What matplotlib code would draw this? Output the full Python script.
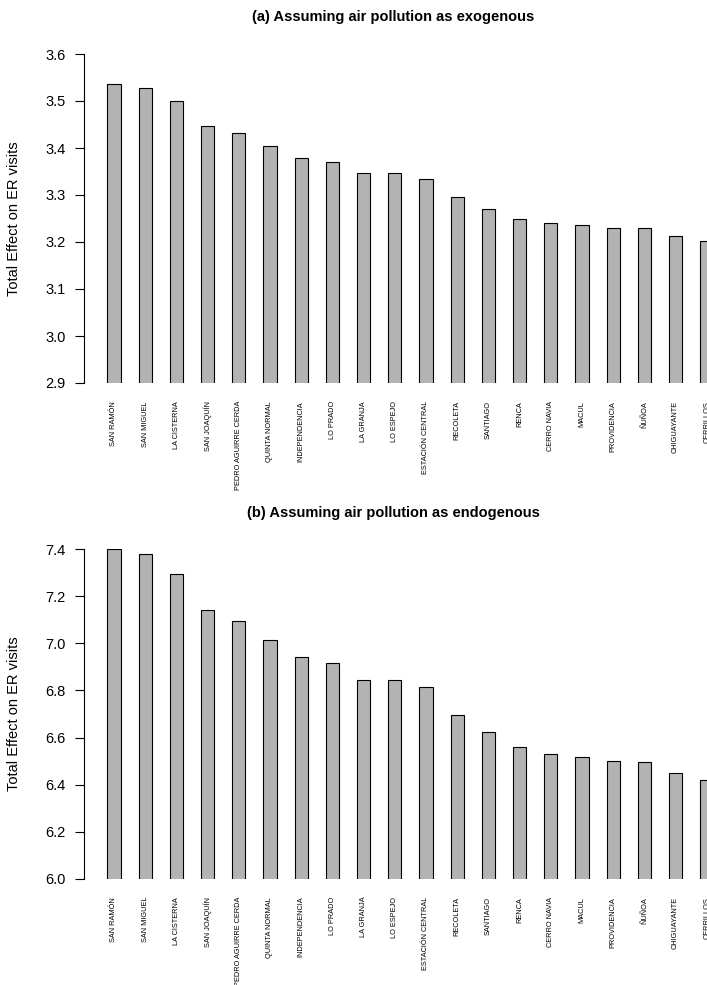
import numpy as np
import matplotlib
matplotlib.use("Agg")
import matplotlib.pyplot as plt

plt.rcParams['font.family'] = ['Liberation Sans', 'DejaVu Sans']

# Communes, sorted by effect
communes = ["SAN RAMÓN", "SAN MIGUEL", "LA CISTERNA", "SAN JOAQUÍN",
            "PEDRO AGUIRRE CERDA", "QUINTA NORMAL", "INDEPENDENCIA", "LO PRADO",
            "LA GRANJA", "LO ESPEJO", "ESTACIÓN CENTRAL", "RECOLETA", "SANTIAGO",
            "RENCA", "CERRO NAVIA", "MACUL", "PROVIDENCIA", "ÑUÑOA",
            "CHIGUAYANTE", "CERRILLOS"]

# (a) exogenous
effect_exog = [3.536, 3.527, 3.499, 3.447, 3.431, 3.404, 3.379, 3.370,
               3.347, 3.346, 3.335, 3.296, 3.271, 3.250, 3.240, 3.236,
               3.230, 3.229, 3.213, 3.203]
yticks_exog = [2.9, 3.0, 3.1, 3.2, 3.3, 3.4, 3.5, 3.6]

# (b) endogenous
effect_endog = [7.400, 7.379, 7.294, 7.142, 7.095, 7.013, 6.941, 6.915,
                6.846, 6.843, 6.813, 6.694, 6.622, 6.559, 6.528, 6.518,
                6.501, 6.498, 6.450, 6.420]
yticks_endog = [6.0, 6.2, 6.4, 6.6, 6.8, 7.0, 7.2, 7.4]

W, H = 707, 985
fig = plt.figure(figsize=(W / 100, H / 100), dpi=100)

x = np.arange(len(communes))
bar_w = 0.42
xmin = -0.9615
xmax = xmin + 623 / 31.2


def panel(top_px, bottom_px, values, ticks, title, title_y):
    ax = fig.add_axes([84 / W, 1 - bottom_px / H, 1 - 84 / W, (bottom_px - top_px) / H])
    ax.bar(x, values, width=bar_w, color="#b3b3b3", edgecolor="black", linewidth=0.8)
    ax.set_xlim(xmin, xmax)
    ax.set_ylim(ticks[0], ticks[-1])
    ax.set_yticks(ticks)
    ax.set_yticklabels([f"{t:.1f}" for t in ticks], fontsize=10.5)
    ax.tick_params(axis="y", length=6.5, width=0.8, pad=6.5)
    ax.set_xticks(x)
    ax.set_xticklabels(communes, rotation=90, fontsize=5.3, va="top")
    ax.tick_params(axis="x", length=0, pad=13)
    for s in ["top", "right", "bottom"]:
        ax.spines[s].set_visible(False)
    ax.spines["left"].set_linewidth(0.8)
    ax.set_ylabel("Total Effect on ER visits", fontsize=10.5)
    ax.yaxis.set_label_coords(-(84 - 21) / 623, 0.5)
    fig.text(393 / W, 1 - title_y / H, title, ha="center", va="center",
             fontsize=10.5, fontweight="bold")
    return ax


panel(54, 383, effect_exog, yticks_exog,
      "(a) Assuming air pollution as exogenous", 17)
panel(549.3, 878.7, effect_endog, yticks_endog,
      "(b) Assuming air pollution as endogenous", 513)

fig.savefig("out.png", dpi=100)
